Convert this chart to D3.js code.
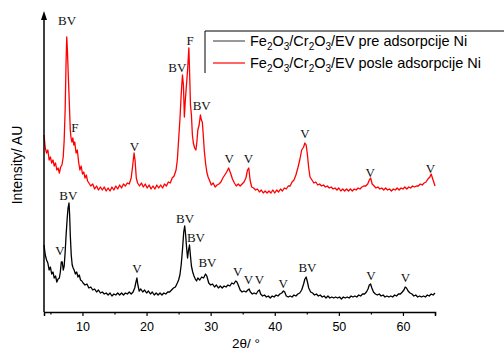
<!DOCTYPE html>
<html><head><meta charset="utf-8">
<script src="https://cdn.jsdelivr.net/npm/d3@7"></script>
<style>body{margin:0;background:#fff}svg{display:block}</style>
</head><body>
<svg id="c" width="504" height="353"></svg>
<script>
// Data: 2θ (deg) and intensity (AU, arbitrary offset units)
const redDeg = [4.0,4.2,4.4,4.6,4.8,5.0,5.2,5.4,5.6,5.8,6.0,6.2,6.4,6.6,6.8,7.0,7.15,7.3,7.45,7.55,7.65,7.8,7.95,8.1,8.2,8.35,8.5,8.65,8.8,9.0,9.2,9.4,9.6,9.8,10.0,10.2,10.4,10.6,10.8,11.0,11.3,11.6,11.9,12.2,12.5,12.8,13.1,13.4,13.7,14.0,14.3,14.6,14.9,15.2,15.5,15.8,16.1,16.4,16.7,17.0,17.3,17.6,17.85,18.05,18.2,18.4,18.6,18.9,19.2,19.5,19.8,20.1,20.4,20.7,21.0,21.3,21.6,21.9,22.2,22.5,22.8,23.1,23.4,23.7,24.0,24.3,24.6,24.8,25.0,25.2,25.4,25.6,25.75,25.9,26.05,26.2,26.4,26.6,26.75,26.85,27.0,27.15,27.3,27.5,27.7,27.85,28.0,28.2,28.4,28.55,28.7,28.85,29.0,29.2,29.4,29.6,29.8,30.1,30.4,30.7,31.0,31.3,31.6,31.9,32.2,32.5,32.8,33.1,33.4,33.7,34.0,34.3,34.6,34.9,35.2,35.5,35.75,35.95,36.15,36.4,36.7,37.0,37.3,37.6,37.9,38.2,38.5,38.8,39.1,39.4,39.7,40.0,40.3,40.6,40.9,41.2,41.5,41.8,42.1,42.4,42.7,43.0,43.3,43.6,43.9,44.2,44.5,44.7,44.9,45.1,45.3,45.5,45.8,46.1,46.4,46.7,47.0,47.3,47.6,47.9,48.2,48.5,48.8,49.1,49.4,49.7,50.0,50.3,50.6,50.9,51.2,51.5,51.8,52.1,52.4,52.7,53.0,53.3,53.6,53.9,54.2,54.5,54.75,54.95,55.2,55.5,55.8,56.1,56.4,56.7,57.0,57.3,57.6,57.9,58.2,58.5,58.8,59.1,59.4,59.7,60.0,60.3,60.6,60.9,61.2,61.5,61.8,62.1,62.4,62.7,63.0,63.3,63.6,63.9,64.2,64.4,64.6,64.8,65.0];
const redVal = [177,164,159,162,152,155,149,152,146,149,142,144,139,145,147,155,172,202,252,275,262,235,209,182,175,170,174,167,170,159,162,150,142,146,138,140,134,137,131,129,126,128,123,126,122,125,122,125,121,124,121,125,122,126,123,127,124,128,126,129,128,134,147,159,152,134,129,126,129,125,128,124,127,123,126,123,127,124,127,124,128,126,130,129,134,136,142,152,172,192,217,237,227,195,212,225,242,264,232,207,197,177,169,164,162,170,182,187,197,192,190,177,162,149,140,135,132,127,129,125,127,128,130,134,137,140,144,139,133,129,126,128,126,128,130,134,142,144,132,125,124,122,123,120,122,119,121,119,121,119,122,119,122,120,123,121,124,123,126,126,130,132,137,144,152,162,165,169,167,157,144,135,132,129,130,127,128,126,127,125,126,124,125,123,124,122,124,121,123,121,123,121,123,121,123,122,124,123,125,126,126,128,132,134,128,126,124,125,123,124,122,124,122,123,121,123,122,124,122,124,123,125,123,125,124,126,125,126,126,128,127,129,130,133,135,138,134,130,126];

const blackDeg = [4.0,4.2,4.4,4.6,4.8,5.0,5.2,5.4,5.6,5.8,6.0,6.2,6.4,6.55,6.7,6.85,7.0,7.15,7.3,7.45,7.6,7.75,7.9,8.0,8.1,8.25,8.4,8.55,8.7,8.9,9.1,9.3,9.5,9.7,9.9,10.1,10.4,10.7,11.0,11.3,11.6,11.9,12.2,12.5,12.8,13.1,13.4,13.7,14.0,14.3,14.6,14.9,15.2,15.5,15.8,16.1,16.4,16.7,17.0,17.3,17.6,17.9,18.15,18.35,18.5,18.65,18.85,19.1,19.4,19.7,20.0,20.3,20.6,20.9,21.2,21.5,21.8,22.1,22.4,22.7,23.0,23.3,23.6,23.9,24.2,24.5,24.8,25.0,25.2,25.4,25.6,25.8,25.95,26.1,26.25,26.4,26.55,26.7,26.85,27.0,27.2,27.4,27.6,27.8,28.0,28.3,28.6,28.9,29.2,29.4,29.7,30.0,30.3,30.6,30.9,31.2,31.5,31.8,32.1,32.4,32.7,33.0,33.3,33.6,33.9,34.1,34.3,34.6,34.9,35.2,35.5,35.8,36.0,36.2,36.5,36.8,37.1,37.4,37.6,37.8,38.1,38.4,38.7,39.0,39.3,39.6,39.9,40.2,40.5,40.8,41.1,41.35,41.55,41.8,42.1,42.4,42.7,43.0,43.3,43.6,43.9,44.2,44.5,44.7,44.9,45.1,45.3,45.6,45.9,46.2,46.5,46.8,47.1,47.4,47.7,48.0,48.3,48.6,48.9,49.2,49.5,49.8,50.1,50.4,50.7,51.0,51.3,51.6,51.9,52.2,52.5,52.8,53.1,53.4,53.7,54.0,54.3,54.55,54.75,54.95,55.15,55.4,55.7,56.0,56.3,56.6,56.9,57.2,57.5,57.8,58.1,58.4,58.7,59.0,59.3,59.6,59.9,60.15,60.35,60.55,60.8,61.1,61.4,61.7,62.0,62.3,62.6,62.9,63.2,63.5,63.8,64.1,64.4,64.7,65.0];
const blackVal = [67,57,52,49,42,45,38,40,34,36,30,33,34,40,50,50,42,46,60,77,92,104,109,97,77,57,47,44,42,38,40,35,37,32,31,29,27,28,24,25,22,23,20,22,19,20,18,19,17,19,16,18,17,19,17,19,17,19,18,20,18,20,24,30,34,27,21,23,20,22,19,21,18,20,17,19,17,19,17,19,18,20,20,22,24,25,29,32,37,47,62,80,86,77,64,54,62,67,56,46,40,36,33,31,34,32,35,34,38,36,29,27,28,25,27,24,26,24,26,25,27,26,29,28,31,30,27,22,20,21,20,22,23,20,18,19,18,21,22,18,16,17,15,16,14,16,15,17,16,18,19,21,20,16,15,16,15,17,16,18,19,22,28,33,35,30,24,20,19,17,18,16,17,15,16,14,16,14,15,14,15,14,15,13,15,14,15,14,16,15,16,15,17,16,18,18,20,23,27,28,24,20,18,17,18,16,17,15,16,15,16,15,17,16,18,18,20,22,25,24,21,19,18,16,17,15,16,15,16,15,17,16,18,17,19];

// Peak annotations: [2θ, intensity, text]
const redLabels = [[7.6,292,"BV"],[8.8,185,"F"],[18.1,166,"V"],[24.8,245,"BV"],[26.8,272,"F"],[28.6,207,"BV"],[32.9,154,"V"],[35.9,154,"V"],[44.7,179,"V"],[54.9,140,"V"],[64.3,144,"V"]];
const blackLabels = [[7.8,117,"BV"],[6.5,62,"V"],[18.5,44,"V"],[26.0,94,"BV"],[27.7,75,"BV"],[29.5,50,"BV"],[34.2,41,"V"],[35.9,33,"V"],[37.6,33,"V"],[41.3,29,"V"],[45.1,45,"BV"],[55.0,37,"V"],[60.4,35,"V"]];

const xMajorTicks = [10,20,30,40,50,60];
const xMinorTicks = [5,15,25,35,45,55,65];
const seriesNames = ["pre adsorpcije Ni","posle adsorpcije Ni"];
const seriesColors = ["#000000","#ff0000"];

const svg = d3.select("#c");
const x = d3.scaleLinear().domain([4,65]).range([44,435]);
const y = d3.scaleLinear().domain([0,298]).range([312,14]);

const line = d3.line().x(d=>x(d[0])).y(d=>y(d[1]));
const blackData = blackDeg.map((d,i)=>[d,blackVal[i]]);
const redData = redDeg.map((d,i)=>[d,redVal[i]]);

svg.append("path").datum(blackData).attr("d",line).attr("fill","none").attr("stroke",seriesColors[0]).attr("stroke-width",1.3).attr("stroke-linejoin","round");
svg.append("path").datum(redData).attr("d",line).attr("fill","none").attr("stroke",seriesColors[1]).attr("stroke-width",1.3).attr("stroke-linejoin","round");

// labels
const lab = (arr)=>svg.append("g").selectAll("text").data(arr).join("text")
  .attr("x",d=>x(d[0])).attr("y",d=>y(d[1])+4.5)
  .attr("text-anchor","middle")
  .attr("font-family","'Liberation Serif','Times New Roman',serif")
  .attr("font-size",13).attr("fill","#111").text(d=>d[2]);
lab(redLabels); lab(blackLabels);

// x axis
const xAxis = d3.axisBottom(x).tickValues(xMajorTicks).tickSize(4).tickPadding(6).tickFormat(d3.format("d"));
const gx = svg.append("g").attr("transform","translate(0,312)").call(xAxis);
gx.select(".domain").attr("stroke","#000").attr("stroke-width",1.5);
gx.selectAll(".tick line").attr("stroke-width",1.2);
gx.selectAll("text").attr("font-family","'Liberation Sans',Arial,sans-serif").attr("font-size",12.5).attr("fill","#000");
svg.append("g").attr("transform","translate(0,312)").call(d3.axisBottom(x).tickValues(xMinorTicks).tickSize(2.5).tickFormat(""))
  .call(g=>g.select(".domain").remove()).selectAll(".tick line").attr("stroke-width",1.2);

// y axis line with arrow
svg.append("line").attr("x1",44).attr("x2",44).attr("y1",312).attr("y2",18).attr("stroke","#000").attr("stroke-width",1.5);
svg.append("path").attr("d","M44,11 L41,20 L47,20 Z").attr("fill","#000");

// axis titles
svg.append("text").attr("transform","translate(22,165) rotate(-90)").attr("text-anchor","middle")
  .attr("font-family","'Liberation Sans',Arial,sans-serif").attr("font-size",14).attr("fill","#000").text("Intensity/ AU");
svg.append("text").attr("x",246).attr("y",348).attr("text-anchor","middle")
  .attr("font-family","'Liberation Sans',Arial,sans-serif").attr("font-size",13.5).attr("fill","#000").text("2θ/ °");

// legend
const lg = svg.append("g");
lg.append("path").attr("d","M205,73 L205,31 L504,31").attr("fill","none").attr("stroke","#000").attr("stroke-width",1);
const legendColors = ["#555","#ff0000"];
seriesNames.forEach((nm,i)=>{
  const yy = 41 + i*22;
  lg.append("line").attr("x1",213).attr("x2",245).attr("y1",yy).attr("y2",yy).attr("stroke",legendColors[i]).attr("stroke-width",1.2);
  const t = lg.append("text").attr("x",250).attr("y",yy+5).attr("font-family","'Liberation Sans',Arial,sans-serif").attr("font-size",14.5).attr("fill","#000");
  const parts = [["Fe",0],["2",1],["O",0],["3",1],["/Cr",0],["2",1],["O",0],["3",1],["/EV "+nm,0]];
  parts.forEach((p,j)=>{
    const prev = j>0 ? parts[j-1][1] : 0;
    const ts = t.append("tspan").text(p[0]);
    if(p[1]) ts.attr("font-size",10);
    ts.attr("dy", p[1] && !prev ? 3.5 : (!p[1] && prev ? -3.5 : 0));
  });
});
</script>
</body></html>
